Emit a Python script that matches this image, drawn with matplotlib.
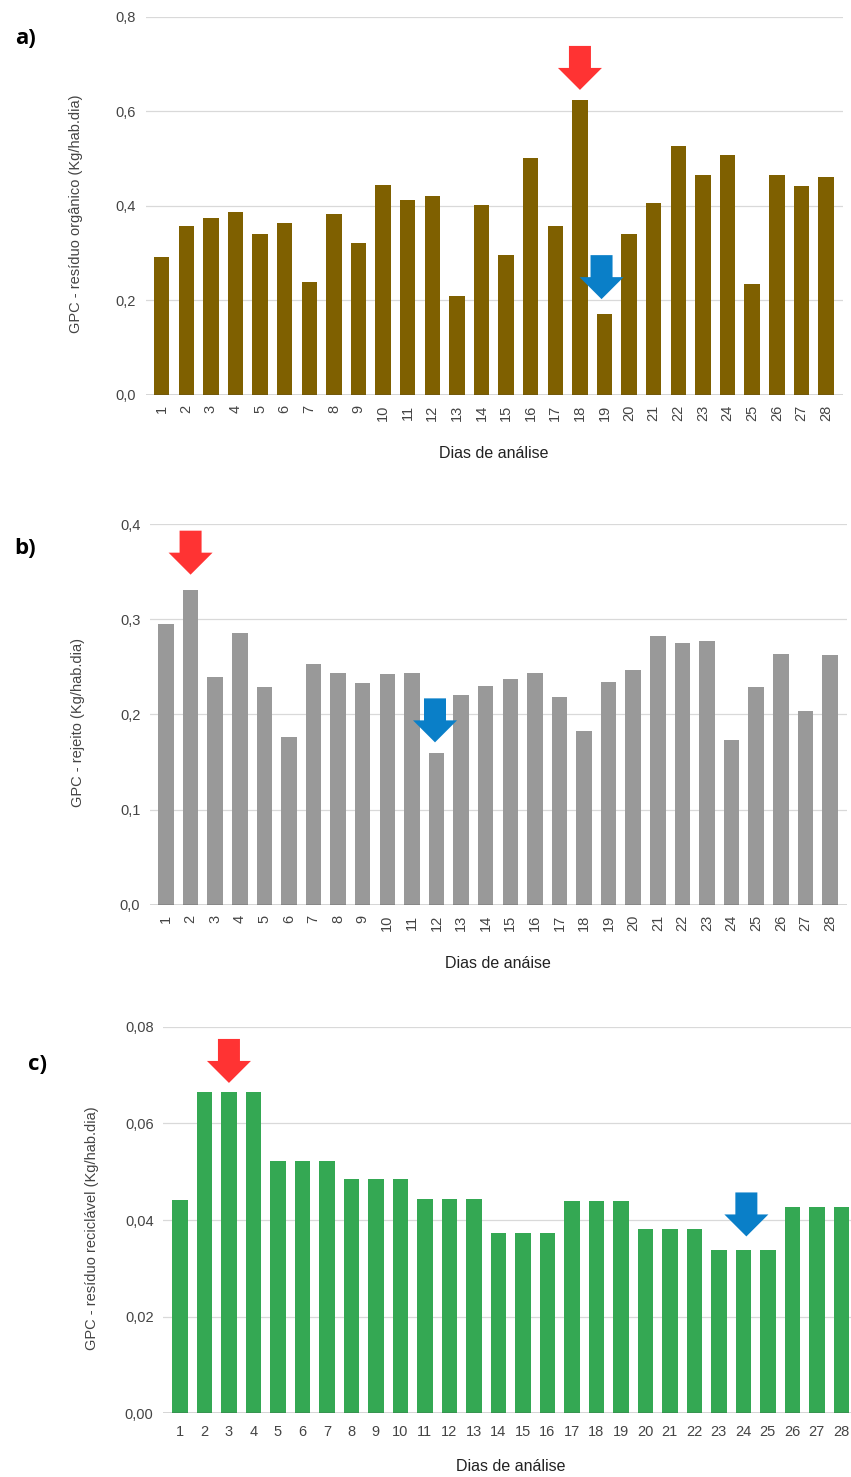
import numpy as np
import matplotlib
matplotlib.use('Agg')
import matplotlib.pyplot as plt
import matplotlib.transforms as mtransforms
from matplotlib.patches import Polygon
from matplotlib.ticker import FuncFormatter, MultipleLocator

plt.rcParams['font.family'] = ['Liberation Sans', 'DejaVu Sans']

# dias de coleta
dias = list(range(1, 29))

# geracao per capita (Kg/hab.dia)
organico = [0.291, 0.357, 0.374, 0.386, 0.340, 0.363, 0.238, 0.382, 0.321, 0.444,
            0.413, 0.421, 0.210, 0.402, 0.296, 0.502, 0.357, 0.624, 0.171, 0.340,
            0.407, 0.527, 0.466, 0.508, 0.235, 0.466, 0.441, 0.460]
rejeito = [0.295, 0.331, 0.239, 0.285, 0.229, 0.176, 0.253, 0.243, 0.233, 0.242,
           0.243, 0.159, 0.220, 0.230, 0.237, 0.243, 0.218, 0.182, 0.234, 0.247,
           0.282, 0.275, 0.277, 0.173, 0.229, 0.263, 0.204, 0.262]
reciclavel = [0.0441, 0.0665, 0.0665, 0.0665, 0.0523, 0.0523, 0.0523, 0.0484, 0.0484, 0.0484,
              0.0443, 0.0443, 0.0443, 0.0374, 0.0374, 0.0374, 0.0440, 0.0440, 0.0440, 0.0381,
              0.0381, 0.0381, 0.0337, 0.0337, 0.0337, 0.0427, 0.0427, 0.0427]

# dia de maior e menor geracao em cada grafico
maximos = [18, 2, 3]
minimos = [19, 12, 24]

W, H = 851, 1477
fig = plt.figure(figsize=(W / 100, H / 100), dpi=100)


def px_axes(left, top, right, bottom):
    return fig.add_axes([left / W, 1 - bottom / H, (right - left) / W, (bottom - top) / H])


def seta(ax, dia, valor, cor, gap=12, dx=0):
    # seta em bloco apontando para baixo, medidas em pixels
    v = np.array([[-11, 44], [11, 44], [11, 22], [22, 22], [0, 0], [-22, 22], [-11, 22]], float)
    v[:, 0] += dx
    v[:, 1] += gap
    trans = fig.dpi_scale_trans + mtransforms.ScaledTranslation(dia, valor, ax.transData)
    ax.add_artist(Polygon(v / fig.dpi, closed=True, transform=trans, facecolor=cor,
                          edgecolor='none', clip_on=False, zorder=5))


def grafico(ax, valores, cor, ymax, passo, casas, ylabel, xlabel, rot, ylab_x, xlim0, xlab_y=-0.155):
    ax.bar(dias, valores, width=0.63, color=cor, zorder=3)
    ax.set_xlim(xlim0, 28.68)
    ax.set_ylim(0, ymax)
    ax.yaxis.set_major_locator(MultipleLocator(passo))
    ax.yaxis.set_major_formatter(FuncFormatter(lambda v, p: f'{v:.{casas}f}'.replace('.', ',')))
    ax.set_xticks(dias)
    ax.set_xticklabels([str(d) for d in dias], rotation=rot)
    ax.grid(axis='y', color='#d9d9d9', linewidth=0.9, zorder=0)
    ax.axhline(0, color='#444444', linewidth=1.0, zorder=4)
    for s in ax.spines.values():
        s.set_visible(False)
    ax.tick_params(length=0, colors='#444444', labelsize=10.5)
    ax.tick_params(axis='y', pad=7)
    ax.tick_params(axis='x', pad=7 if rot else 8.5)
    ax.set_ylabel(ylabel, fontsize=10.5, color='#444444', va='center')
    ax.yaxis.set_label_coords(ylab_x, 0.478)
    ax.set_xlabel(xlabel, fontsize=11.5, color='#222222', va='center')
    ax.xaxis.set_label_coords(0.5, xlab_y)


ax_a = px_axes(145.7, 16.7, 842.7, 395)
grafico(ax_a, organico, '#7f6000', 0.8, 0.2, 1,
        'GPC - resíduo orgânico (Kg/hab.dia)', 'Dias de análise', 90, -0.1, 0.35)
seta(ax_a, maximos[0], organico[maximos[0] - 1], '#ff3333', gap=10)
seta(ax_a, minimos[0], organico[minimos[0] - 1], '#0a7fc8', gap=15, dx=-3)

ax_b = px_axes(150, 524, 846.7, 904.7)
grafico(ax_b, rejeito, '#999999', 0.4, 0.1, 1,
        'GPC - rejeito (Kg/hab.dia)', 'Dias de anáise', 90, -0.104, 0.35)
seta(ax_b, maximos[1], rejeito[maximos[1] - 1], '#ff3333', gap=15)
seta(ax_b, minimos[1], rejeito[minimos[1] - 1], '#0a7fc8', gap=11, dx=-1.5)

ax_c = px_axes(163.3, 1026.7, 858, 1413.3)
grafico(ax_c, reciclavel, '#34a853', 0.08, 0.02, 2,
        'GPC - resíduo reciclável (Kg/hab.dia)', 'Dias de análise', 0, -0.102, 0.32,
        xlab_y=-0.138)
seta(ax_c, maximos[2], reciclavel[maximos[2] - 1], '#ff3333', gap=9)
seta(ax_c, minimos[2], reciclavel[minimos[2] - 1], '#0a7fc8', gap=14, dx=3)

for letra, x, y in [('a)', 25, 38), ('b)', 25, 549), ('c)', 37.5, 1064)]:
    fig.text(x / W, 1 - y / H, letra, fontsize=16, fontweight='bold',
             family='Open Sans', ha='center', va='center', color='black')

fig.savefig('out.png', dpi=100)
